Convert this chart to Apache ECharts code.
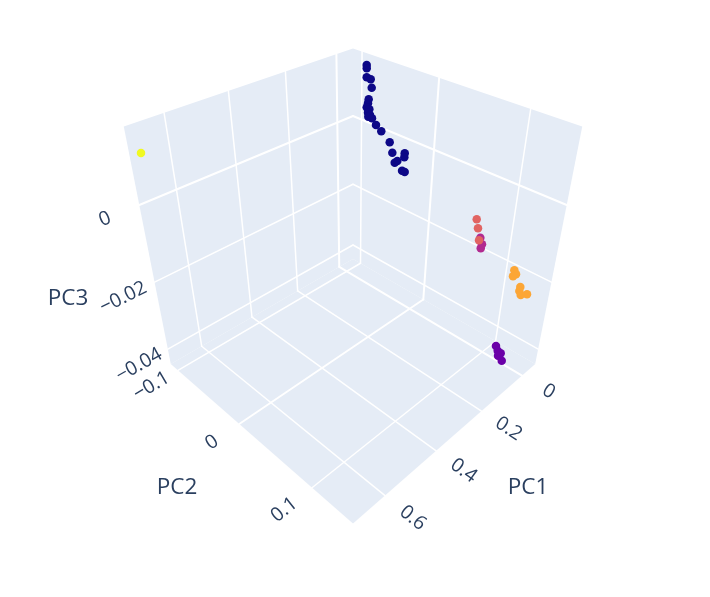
<!DOCTYPE html>
<html>
<head>
<meta charset="utf-8">
<style>html,body{margin:0;background:#fff}#main{width:710px;height:597px}</style>
<script src="https://cdn.jsdelivr.net/npm/echarts@6/dist/echarts.min.js"></script>
</head>
<body>
<div id="main"></div>
<script>
// cluster number of every sample, and its three components
var clusterIds = [0,0,0,0,0,0,0,0,0,0,0,0,0,0,0,0,0,0,0,0,0,0,0, 1,1,1,1,1, 2,2,2, 3,3,3, 4,4,4,4,4,4,4, 5];
var pc1 = [-0.02,-0.02,-0.02,-0.02,-0.02,-0.02,-0.02,-0.02,-0.02,-0.02,-0.02,-0.02,-0.02,-0.02,-0.02,-0.02,-0.02,-0.02,-0.02,-0.02,-0.02,-0.02,-0.02,
	-0.02,-0.02,-0.02,-0.02,-0.02, -0.02,-0.02,-0.02, -0.02,-0.02,-0.02, -0.02,-0.02,-0.02,-0.02,-0.02,-0.02,-0.02, 0.69];
var pc2 = [-0.0772,-0.0771,-0.0770,-0.0715,-0.0700,-0.0739,-0.0748,-0.0765,-0.0728,-0.0746,-0.0718,-0.0741,-0.0689,-0.0632,-0.0557,-0.0438,-0.0398,-0.0233,-0.0236,-0.0361,-0.0327,-0.0258,-0.0222,
	0.1111,0.1139,0.1178,0.1152,0.1203, 0.0766,0.0794,0.0785, 0.0701,0.0727,0.0755, 0.1183,0.1207,0.1179,0.1273,0.1270,0.1291,0.1355, -0.1076];
var pc3 = [0.01675,0.01596,0.01378,0.01365,0.01169,0.00851,0.00743,0.00627,0.00603,0.00502,0.00463,0.00401,0.00399,0.00268,0.00162,-0.00032,-0.00275,-0.00150,-0.00258,-0.00513,-0.00437,-0.00639,-0.00641,
	-0.04228,-0.04340,-0.04365,-0.04486,-0.04572, -0.01437,-0.01587,-0.01709, -0.01009,-0.01223,-0.01521, -0.01847,-0.01928,-0.02019,-0.02202,-0.02320,-0.02406,-0.02302, 0.01172];

var clusterColors = ['#0d0887','#6a00a8','#b12a90','#e16462','#fca636','#f0f921'];

var pc1Ticks = [0,0.2,0.4,0.6];
var pc2Ticks = [-0.1,0,0.1];
var pc3Ticks = [-0.04,-0.02,0];
var pc1Range = [-0.0701,0.7136];
var pc2Range = [-0.1129,0.1491];
var pc3Range = [-0.0449,0.0176];

var W = 710, H = 597;
var textColor = '#2a3f5f', wallColor = '#e5ecf6';
var fontName = '"Open Sans", "Noto Sans", sans-serif';

// camera looks at the cube from (1,1,1), same as the default 3d scene
var camDist = 5.05, focal = 725, centerX = 353, centerY = 258.9;

function norm(v,r){ return (v-r[0])/(r[1]-r[0])*2-1; }

function cam(a,b,c){
	var depth = camDist-(a+b+c)/Math.sqrt(3);
	return [
		centerX+focal*((b-a)/Math.SQRT2)/depth,
		centerY-focal*((2*c-a-b)/Math.sqrt(6))/depth
	];
}

function project(x,y,z){
	return cam(norm(x,pc1Range),norm(y,pc2Range),norm(z,pc3Range));
}

var x0=pc1Range[0],x1=pc1Range[1],y0=pc2Range[0],y1=pc2Range[1],z0=pc3Range[0],z1=pc3Range[1];

// walls, far side only
var walls = [
	[project(x0,y0,z0),project(x1,y0,z0),project(x1,y1,z0),project(x0,y1,z0)],
	[project(x0,y0,z0),project(x1,y0,z0),project(x1,y0,z1),project(x0,y0,z1)],
	[project(x0,y0,z0),project(x0,y1,z0),project(x0,y1,z1),project(x0,y0,z1)]
];

var gridLines = [];
function addLine(a,b,isZero){
	gridLines.push([a[0],a[1],b[0],b[1],isZero?2:1.5]);
}
pc1Ticks.forEach(function(t){
	addLine(project(t,y0,z0),project(t,y1,z0),t===0);
	addLine(project(t,y0,z0),project(t,y0,z1),t===0);
});
pc2Ticks.forEach(function(t){
	addLine(project(x0,t,z0),project(x1,t,z0),t===0);
	addLine(project(x0,t,z0),project(x0,t,z1),t===0);
});
pc3Ticks.forEach(function(t){
	addLine(project(x0,y0,t),project(x1,y0,t),t===0);
	addLine(project(x0,y0,t),project(x0,y1,t),t===0);
});

function fmt(v){ return String(v).replace('-','\u2212'); }
function slope(a,b){ return Math.atan2(a[1]-b[1],b[0]-a[0]); }

// tick labels lie just outside the edge, turned along the grid line they belong to
var tickLabels = [];
pc1Ticks.forEach(function(t){
	var a=norm(t,pc1Range);
	var p=cam(a,1.235,-1);
	tickLabels.push([p[0],p[1],fmt(t),slope(cam(a,-1,-1),cam(a,1,-1))]);
});
pc2Ticks.forEach(function(t){
	var b=norm(t,pc2Range);
	var p=cam(1.235,b,-1);
	tickLabels.push([p[0],p[1],fmt(t),slope(cam(1,b,-1),cam(-1,b,-1))]);
});
pc3Ticks.forEach(function(t){
	var c=norm(t,pc3Range);
	var p=cam(1.25,-1,c);
	tickLabels.push([p[0],p[1],fmt(t),slope(cam(1,-1,c),cam(-1,-1,c))]);
});

function mid(a,b){ return (a+b)/2; }
var p1=project(mid(x0,x1),y1,z0), p2=project(x1,mid(y0,y1),z0), p3=project(x1,y0,mid(z0,z1));
var titleLabels = [
	[p1[0]+73.5,p1[1]+53,'PC1'],
	[p2[0]-74.5,p2[1]+53,'PC2'],
	[p3[0]-82,p3[1]+40,'PC3']
];

var clusterSeries = clusterColors.map(function(color,c){
	var points = [];
	for(var i=0;i<clusterIds.length;i++){
		if(clusterIds[i]===c) points.push(project(pc1[i],pc2[i],pc3[i]));
	}
	return {
		type:'scatter',
		name:'cluster '+c,
		symbolSize:8.5,
		z:5,
		itemStyle:{color:color,opacity:1},
		data:points
	};
});

var myChart = echarts.init(document.getElementById('main'),null,{renderer:'canvas'});
var option = {
	animation:false,
	backgroundColor:'#fff',
	grid:{left:0,right:0,top:0,bottom:0},
	xAxis:{type:'value',min:0,max:W,show:false},
	yAxis:{type:'value',min:0,max:H,inverse:true,show:false},
	series:[
		{
			type:'custom',
			name:'walls',
			silent:true,
			z:1,
			clip:false,
			data:walls.map(function(w,i){ return [i]; }),
			encode:{x:[],y:[]},
			renderItem:function(params,api){
				var pts = walls[api.value(0)].map(function(p){ return api.coord(p); });
				return {type:'polygon',shape:{points:pts},style:{fill:wallColor}};
			}
		},
		{
			type:'custom',
			name:'grid',
			silent:true,
			z:2,
			clip:false,
			data:gridLines,
			encode:{x:[0,2],y:[1,3]},
			renderItem:function(params,api){
				var a=api.coord([api.value(0),api.value(1)]);
				var b=api.coord([api.value(2),api.value(3)]);
				return {
					type:'line',
					shape:{x1:a[0],y1:a[1],x2:b[0],y2:b[1]},
					style:{stroke:'#fff',lineWidth:api.value(4),lineCap:'round'}
				};
			}
		},
		{
			type:'custom',
			name:'tick labels',
			silent:true,
			z:3,
			clip:false,
			data:tickLabels,
			encode:{x:0,y:1},
			renderItem:function(params,api){
				var row=tickLabels[params.dataIndex];
				var p=api.coord([row[0],row[1]]);
				return {
					type:'text',
					x:p[0],y:p[1],
					rotation:row[3],
					style:{text:row[2],font:'19.5px '+fontName,fill:textColor,align:'center',verticalAlign:'middle'}
				};
			}
		},
		{
			type:'custom',
			name:'axis titles',
			silent:true,
			z:3,
			clip:false,
			data:titleLabels,
			encode:{x:0,y:1},
			renderItem:function(params,api){
				var row=titleLabels[params.dataIndex];
				var p=api.coord([row[0],row[1]]);
				return {
					type:'text',
					x:p[0],y:p[1],
					style:{text:row[2],font:'22.5px '+fontName,fill:textColor,align:'center',verticalAlign:'middle'}
				};
			}
		}
	].concat(clusterSeries)
};
myChart.setOption(option);
</script>
</body>
</html>
